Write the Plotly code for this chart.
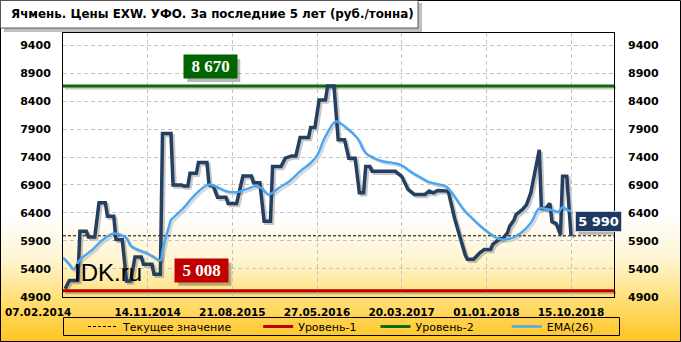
import base64
import numpy as np
import pandas as pd
import plotly.graph_objects as go

# ---------------- data ----------------
START = pd.Timestamp("2014-02-07")          # first weekly observation
AXIS_END_WEEK = 260.3                          # axis extends ~5 years

# price series (vertices of weekly polyline): week index from START, price rub/t
price_weeks = [1, 3, 7, 8, 11, 12, 15, 17, 20, 21, 24, 25, 28, 30, 32, 34, 37, 38, 42, 43,
               46, 47, 51, 52, 56, 57, 59, 60, 63, 64, 68, 69, 71, 73, 77, 78, 82, 85, 89, 90,
               93, 95, 98, 99, 103, 105, 108, 110, 112, 116, 117, 119, 121, 124, 125, 128, 130, 133,
               135, 138, 140, 142, 143, 145, 146, 157, 160, 163, 166, 171, 173, 175, 177, 182,
               185, 188, 190, 191, 194, 197, 199, 202, 203, 206, 208, 210, 211, 213, 214, 217,
               219, 221, 223, 225, 226, 228, 230, 231, 233, 235, 236, 238, 240]
price_values = [5040, 5190, 5190, 6070, 6070, 5970, 5970, 6580, 6580, 6340, 6340, 5925, 5920, 5180, 5180, 5610, 5610, 5480, 5480, 5300,
                5300, 7820, 7820, 6900, 6900, 6880, 6880, 7110, 7110, 7300, 7300, 6900, 6880, 6680, 6680, 6570, 6570, 7060, 7060, 6940,
                6940, 6250, 6250, 7230, 7230, 7380, 7420, 7420, 7750, 7750, 7930, 7930, 8420, 8420, 8670, 8670, 7710, 7710,
                7380, 7380, 6760, 6760, 7230, 7230, 7145, 7145, 7055, 6820, 6730, 6730, 6790, 6760, 6800, 6790,
                6300, 5880, 5650, 5570, 5570, 5690, 5745, 5745, 5835, 5925, 5950, 6045, 6160, 6270, 6370, 6460,
                6550, 6760, 7175, 7530, 6480, 6480, 6570, 6240, 6210, 6010, 7056, 7056, 5990]

# EMA(26) vertices
ema_weeks = [0, 3, 5, 8, 14, 19, 24, 27, 30, 32, 35, 39, 42, 46, 47, 48, 49, 50, 51, 52,
             57, 61, 66, 69, 72, 77, 82, 87, 91, 94, 97, 102, 107, 112, 117, 120, 124, 129,
             134, 139, 140, 143, 147, 151, 156, 160, 164, 169, 173, 178, 181, 185, 189, 192,
             197, 201, 206, 211, 216, 221, 225, 228, 231, 234, 236, 238, 240]
ema_values = [5600, 5480, 5390, 5560, 5745, 5925, 6030, 6010, 5950, 5810, 5745, 5690, 5630, 5550, 5720, 5875, 6020, 6150, 6275, 6310,
              6490, 6670, 6846, 6906, 6876, 6790, 6770, 6830, 6876, 6840, 6730, 6846, 6966, 7144, 7293, 7424, 7769, 8037,
              7918, 7740, 7680, 7472, 7382, 7323, 7293, 7251, 7144, 7030, 6950, 6906, 6870, 6690, 6470, 6350,
              6170, 6050, 5935, 5935, 6030, 6220, 6480, 6470, 6450, 6420, 6500, 6460, 6430]

level1 = 5008          # Уровень-1
level2 = 8670          # Уровень-2
current_value = 5990   # Текущее значение

y_tick_values = [4900, 5400, 5900, 6400, 6900, 7400, 7900, 8400, 8900, 9400]
x_tick_weeks = [0, 40, 80, 120, 160, 200, 240]
x_tick_labels = ["07.02.2014", "14.11.2014", "21.08.2015", "27.05.2016",
                 "20.03.2017", "01.01.2018", "15.10.2018"]

title_text = "Ячмень. Цены EXW. УФО. За последние 5 лет (руб./тонна)"
names = ["Текущее значение", "Уровень-1", "Уровень-2", "EMA(26)"]

# ---------------- helpers ----------------
def wk(w):
    return START + pd.to_timedelta(np.asarray(w, dtype=float) * 7, unit="D")

x_start = START
x_end = wk([AXIS_END_WEEK])[0]
Y_RANGE = [4900, 9620]

W, H = 681, 342
PL, PR, PT, PB = 63, 614, 33, 296.7
xdom = [PL / W, PR / W]
ydom = [1 - PB / H, 1 - PT / H]
SDX, SDY = 2, 2
xdom_s = [(PL + SDX) / W, (PR + SDX) / W]
ydom_s = [1 - (PB + SDY) / H, 1 - (PT + SDY) / H]

def px(x):
    return x / W

def py(y):
    return 1 - y / H

NAVY = "#243F60"
EMA_C = "#4DA6F2"
RED = "#C00000"
GREEN = "#0B6A0B"
SHADOW = "rgba(0,0,0,0.22)"
NB = "\u00a0"

fig = go.Figure()

# ---- shadow traces (subplot x/y, drawn first) ----
fig.add_trace(go.Scatter(x=[x_start, x_end], y=[level1, level1], mode="lines",
                         line=dict(color=SHADOW, width=3), xaxis="x", yaxis="y",
                         showlegend=False, hoverinfo="skip"))
fig.add_trace(go.Scatter(x=[x_start, x_end], y=[level2, level2], mode="lines",
                         line=dict(color=SHADOW, width=3), xaxis="x", yaxis="y",
                         showlegend=False, hoverinfo="skip"))
fig.add_trace(go.Scatter(x=wk(price_weeks), y=price_values, mode="lines",
                         line=dict(color=SHADOW, width=3.5), xaxis="x", yaxis="y",
                         showlegend=False, hoverinfo="skip"))
fig.add_trace(go.Scatter(x=wk(ema_weeks), y=ema_values, mode="lines", line_shape="spline",
                         line=dict(color="rgba(0,0,0,0.15)", width=2.5), xaxis="x", yaxis="y",
                         showlegend=False, hoverinfo="skip"))

# ---- main traces ----
fig.add_trace(go.Scatter(x=[x_start, x_end], y=[level2, level2], mode="lines",
                         line=dict(color=GREEN, width=3), name=names[2] + NB * 8,
                         legendrank=3, xaxis="x2", yaxis="y2"))
fig.add_trace(go.Scatter(x=[x_start, x_end], y=[current_value, current_value], mode="lines",
                         line=dict(color="#000000", width=1, dash="3px,2px"),
                         name=names[0] + NB * 6, legendrank=1, xaxis="x2", yaxis="y2"))
fig.add_trace(go.Scatter(x=wk(price_weeks), y=price_values, mode="lines",
                         line=dict(color=NAVY, width=3.5), showlegend=False,
                         xaxis="x2", yaxis="y2"))
fig.add_trace(go.Scatter(x=wk(ema_weeks), y=ema_values, mode="lines", line_shape="spline",
                         line=dict(color=EMA_C, width=2.5), name=names[3],
                         legendrank=4, xaxis="x2", yaxis="y2"))
fig.add_trace(go.Scatter(x=[x_start, x_end], y=[level1, level1], mode="lines",
                         line=dict(color=RED, width=3), name=names[1] + NB * 4,
                         legendrank=2, xaxis="x2", yaxis="y3"))

# ---------------- layout ----------------
svg = ('<svg xmlns="http://www.w3.org/2000/svg" width="681" height="342" preserveAspectRatio="none">'
       '<defs><linearGradient id="g" x1="0" y1="0" x2="0" y2="1">'
       '<stop offset="0" stop-color="#FFFFFF"/>'
       '<stop offset="0.63" stop-color="#FFFFFF"/>'
       '<stop offset="0.76" stop-color="#FFF5D2"/>'
       '<stop offset="0.87" stop-color="#FFE07A"/>'
       '<stop offset="1" stop-color="#FFC420"/>'
       '</linearGradient></defs><rect width="681" height="342" fill="url(#g)"/></svg>')
bg_src = "data:image/svg+xml;base64," + base64.b64encode(svg.encode()).decode()

tick_font = dict(family="DejaVu Sans", size=11, color="#000000", weight="bold")
xtick_font = dict(tick_font, size=10.5)
grid = dict(showgrid=True, gridcolor="#C4C4C4", gridwidth=1, griddash="4px,3px")

# first date label is drawn shifted left (as in the original), the rest sit on their ticks
xt_labels = [""] + x_tick_labels[1:]

fig.update_layout(
    width=W, height=H, autosize=False,
    margin=dict(l=0, r=0, t=0, b=0, pad=0, autoexpand=False),
    paper_bgcolor="#FFFFFF", plot_bgcolor="rgba(0,0,0,0)",
    images=[dict(source=bg_src, xref="paper", yref="paper", x=0, y=1, sizex=1, sizey=1,
                 xanchor="left", yanchor="top", sizing="stretch", layer="below")],
    xaxis=dict(domain=xdom_s, range=[x_start, x_end], visible=False, anchor="y", type="date"),
    yaxis=dict(domain=ydom_s, range=Y_RANGE, visible=False, anchor="x"),
    xaxis2=dict(domain=xdom, range=[x_start, x_end], anchor="y2", type="date",
                tickvals=list(wk(x_tick_weeks)), ticktext=xt_labels, tickangle=0,
                tickfont=xtick_font, ticks="", ticklabelstandoff=6,
                showline=True, linecolor="#000000", linewidth=1, mirror=True,
                zeroline=False, automargin=False, **grid),
    yaxis2=dict(domain=ydom, range=Y_RANGE, anchor="x2", tickvals=y_tick_values,
                tickfont=tick_font, ticks="", ticklabelstandoff=9,
                showline=True, linecolor="#000000", linewidth=1, mirror=True,
                zeroline=False, automargin=False, **grid),
    yaxis3=dict(range=Y_RANGE, overlaying="y2", side="right", anchor="x2",
                tickvals=y_tick_values, tickfont=tick_font, ticks="", ticklabelstandoff=13,
                showgrid=False, zeroline=False, showline=False, automargin=False),
    showlegend=True,
    legend=dict(orientation="h", x=px(83), xanchor="left", y=py(326.5), yanchor="middle",
                bgcolor="rgba(0,0,0,0)", borderwidth=0,
                font=dict(family="DejaVu Sans", size=11, color="#000000"),
                itemwidth=30, traceorder="normal"),
    hovermode=False,
)

def box_shadow(week, yval, w, y0, y1, dx=3, dy=3):
    """Soft shadow rectangle behind a label box, sized in pixels around a data anchor."""
    return dict(type="rect", xref="x2", yref="y2", xsizemode="pixel", ysizemode="pixel",
                xanchor=wk([week])[0], yanchor=yval,
                x0=-w / 2 + dx, x1=w / 2 + dx, y0=y0 - dy, y1=y1 - dy,
                line=dict(width=0), fillcolor="rgba(0,0,0,0.28)", layer="above")

shapes = [
    # outer frame
    dict(type="rect", xref="paper", yref="paper", x0=px(0.5), x1=px(680.5), y0=py(341.5), y1=py(0.5),
         line=dict(color="#000000", width=1), fillcolor="rgba(0,0,0,0)", layer="above"),
    # title box shadow + box
    dict(type="rect", xref="paper", yref="paper", x0=px(4), x1=px(422), y0=py(32), y1=py(3),
         line=dict(width=0), fillcolor="rgba(0,0,0,0.25)", layer="above"),
    dict(type="rect", xref="paper", yref="paper", x0=px(0.5), x1=px(418), y0=py(28), y1=py(0.5),
         line=dict(color="#555555", width=1), fillcolor="#FFFFFF", layer="above"),
    # legend frame
    dict(type="rect", xref="paper", yref="paper", x0=px(63.5), x1=px(619.5), y0=py(335.5), y1=py(317.5),
         line=dict(color="#000000", width=1), fillcolor="rgba(0,0,0,0)", layer="above"),
    # label shadows
    box_shadow(69.8, level2, 53, 7, 30),
    box_shadow(65.6, level1, 53, 8, 31),
    box_shadow(253.2, current_value, 47, 4, 25),
]
fig.update_layout(shapes=shapes)

annotations = [
    dict(text=title_text, xref="paper", yref="paper", x=px(9), y=py(14.5), xanchor="left",
         yanchor="middle", showarrow=False,
         font=dict(family="DejaVu Sans", size=11.9, color="#000000", weight="bold")),
    dict(text="IDK.ru", xref="paper", yref="paper", x=px(72), y=py(272), xanchor="left",
         yanchor="middle", showarrow=False,
         font=dict(family="Liberation Sans", size=24, color="#000000")),
    # first date label
    dict(text=x_tick_labels[0], xref="x2", yref="paper", x=wk([x_tick_weeks[0]])[0],
         y=py(311.5), xanchor="center", yanchor="middle", xshift=-25, showarrow=False,
         font=xtick_font),
]

def label(text, week, yval, yshift, bg, fam, size, w, h, border=None):
    main = dict(xref="x2", yref="y2", x=wk([week])[0], y=yval, yanchor="bottom",
                showarrow=False, width=w, height=h, borderpad=2,
                text=text, yshift=yshift, bgcolor=bg,
                font=dict(family=fam, size=size, color="#FFFFFF", weight="bold"))
    if border:
        main["bordercolor"] = border
        main["borderwidth"] = 1
    return [main]

annotations += label("8 670", 69.8, level2, 7, "#006400", "Liberation Serif", 17, 49, 19)
annotations += label("5 008", 65.6, level1, 8, "#C00000", "Liberation Serif", 17, 49, 19)
annotations += label("5 990", 253.2, current_value, 4, "#1F3A5F", "DejaVu Sans", 13, 41, 15, border="#C8D2DC")

fig.update_layout(annotations=annotations)

fig.write_html("out.html")
